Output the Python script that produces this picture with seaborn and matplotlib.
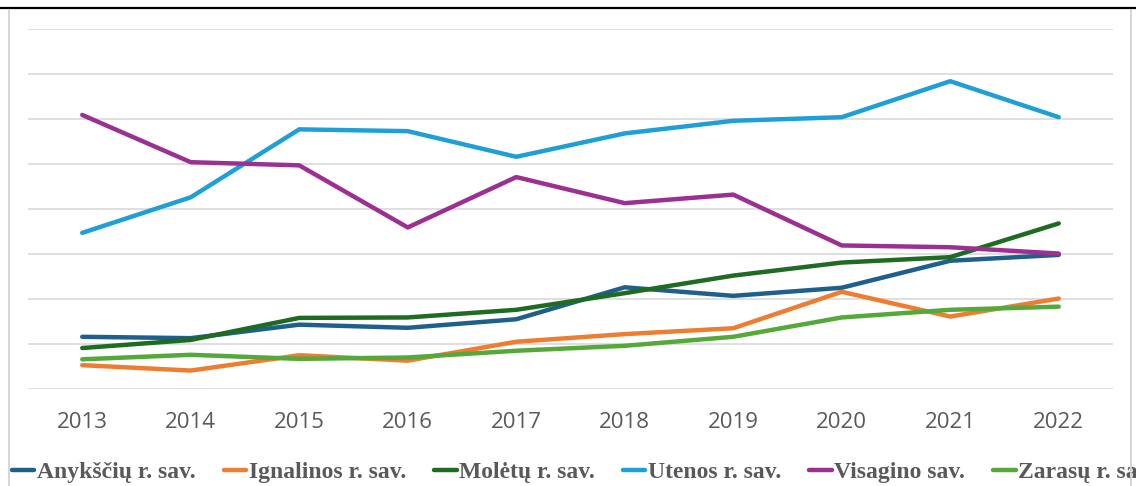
import pandas as pd
import matplotlib
matplotlib.use('Agg')
import matplotlib.pyplot as plt
from matplotlib.lines import Line2D
from matplotlib.patches import Rectangle
import seaborn as sns

# Data (y axis has no labels, values in grid units)
YEARS = [2013, 2014, 2015, 2016, 2017, 2018, 2019, 2020, 2021, 2022]
ANYKSCIU = [1.16, 1.13, 1.43, 1.36, 1.55, 2.26, 2.07, 2.25, 2.85, 2.98]
IGNALINOS = [0.53, 0.41, 0.75, 0.63, 1.05, 1.22, 1.35, 2.16, 1.61, 2.01]
MOLETU = [0.91, 1.09, 1.58, 1.59, 1.76, 2.13, 2.52, 2.81, 2.93, 3.68]
UTENOS = [3.47, 4.26, 5.77, 5.73, 5.16, 5.68, 5.96, 6.04, 6.84, 6.04]
VISAGINO = [6.09, 5.04, 4.97, 3.59, 4.71, 4.13, 4.32, 3.19, 3.15, 3.01]
ZARASU = [0.66, 0.76, 0.67, 0.70, 0.85, 0.96, 1.16, 1.59, 1.76, 1.83]

SERIES = {
    'Anykščių r. sav.': ANYKSCIU,
    'Ignalinos r. sav.': IGNALINOS,
    'Molėtų r. sav.': MOLETU,
    'Utenos r. sav.': UTENOS,
    'Visagino sav.': VISAGINO,
    'Zarasų r. sav.': ZARASU,
}
COLOURS = ['#1F5F8B', '#ED7D31', '#1E6B22', '#1EA0D6', '#9B2F92', '#55A93A']

W, H = 1136, 486


def main():

    # Long format for seaborn
    df = pd.DataFrame({'Metai': YEARS, **SERIES})
    df = df.melt(id_vars='Metai', var_name='Savivaldybė', value_name='Reikšmė')

    sns.set_style('white')
    fig = plt.figure(figsize=(W / 100, H / 100), dpi=100)
    ax = fig.add_axes([28 / W, 1 - 389 / H, 1085 / W, 360 / H])

    sns.lineplot(data=df, x='Metai', y='Reikšmė', hue='Savivaldybė',
                 palette=COLOURS, linewidth=3.2, ax=ax, legend=False)

    # Axes formatting
    ax.set_xlim(2012.5, 2022.5)
    ax.set_ylim(0, 8)
    ax.set_xticks(YEARS)
    ax.set_xticklabels([str(y) for y in YEARS], fontsize=16,
                       color='#595959', family='Open Sans')
    ax.set_yticks(range(9))
    ax.set_yticklabels([])
    ax.tick_params(axis='both', length=0, pad=16.5)
    ax.yaxis.grid(True, color='#D9D9D9', linewidth=1.2)
    ax.set_axisbelow(True)
    ax.set_xlabel('')
    ax.set_ylabel('')
    for side in ax.spines.values():
        side.set_visible(False)

    # Legend along the bottom, clipped by the right edge
    handles = [Line2D([], [], color=c, linewidth=3.2) for c in COLOURS]
    fig.legend(handles, list(SERIES.keys()), loc='center left',
               bbox_to_anchor=(12 / W, 1 - 472 / H), ncol=6, frameon=False,
               borderaxespad=0, borderpad=0,
               handlelength=0.95, handletextpad=0.1, columnspacing=1.2,
               prop={'family': 'Liberation Serif', 'weight': 'bold',
                     'size': 17},
               labelcolor='#595959')

    # Frame of the original chart: white strip at the right cuts the legend
    fig.add_artist(Rectangle((1131 / W, 0), 5 / W, 1 - 10 / H,
                             transform=fig.transFigure, facecolor='white',
                             edgecolor='none', zorder=5))
    fig.add_artist(Line2D([0, 1], [1 - 8 / H] * 2, color='black',
                          linewidth=1.6, zorder=6))
    fig.add_artist(Line2D([9 / W] * 2, [0, 1 - 10 / H],
                          color='#D0D0D0', linewidth=1.2, zorder=6))
    fig.add_artist(Line2D([1131 / W] * 2, [0, 1 - 10 / H],
                          color='#D0D0D0', linewidth=1.2, zorder=6))

    fig.savefig('out.png', dpi=100)
    plt.close(fig)


if __name__ == '__main__':
    main()
